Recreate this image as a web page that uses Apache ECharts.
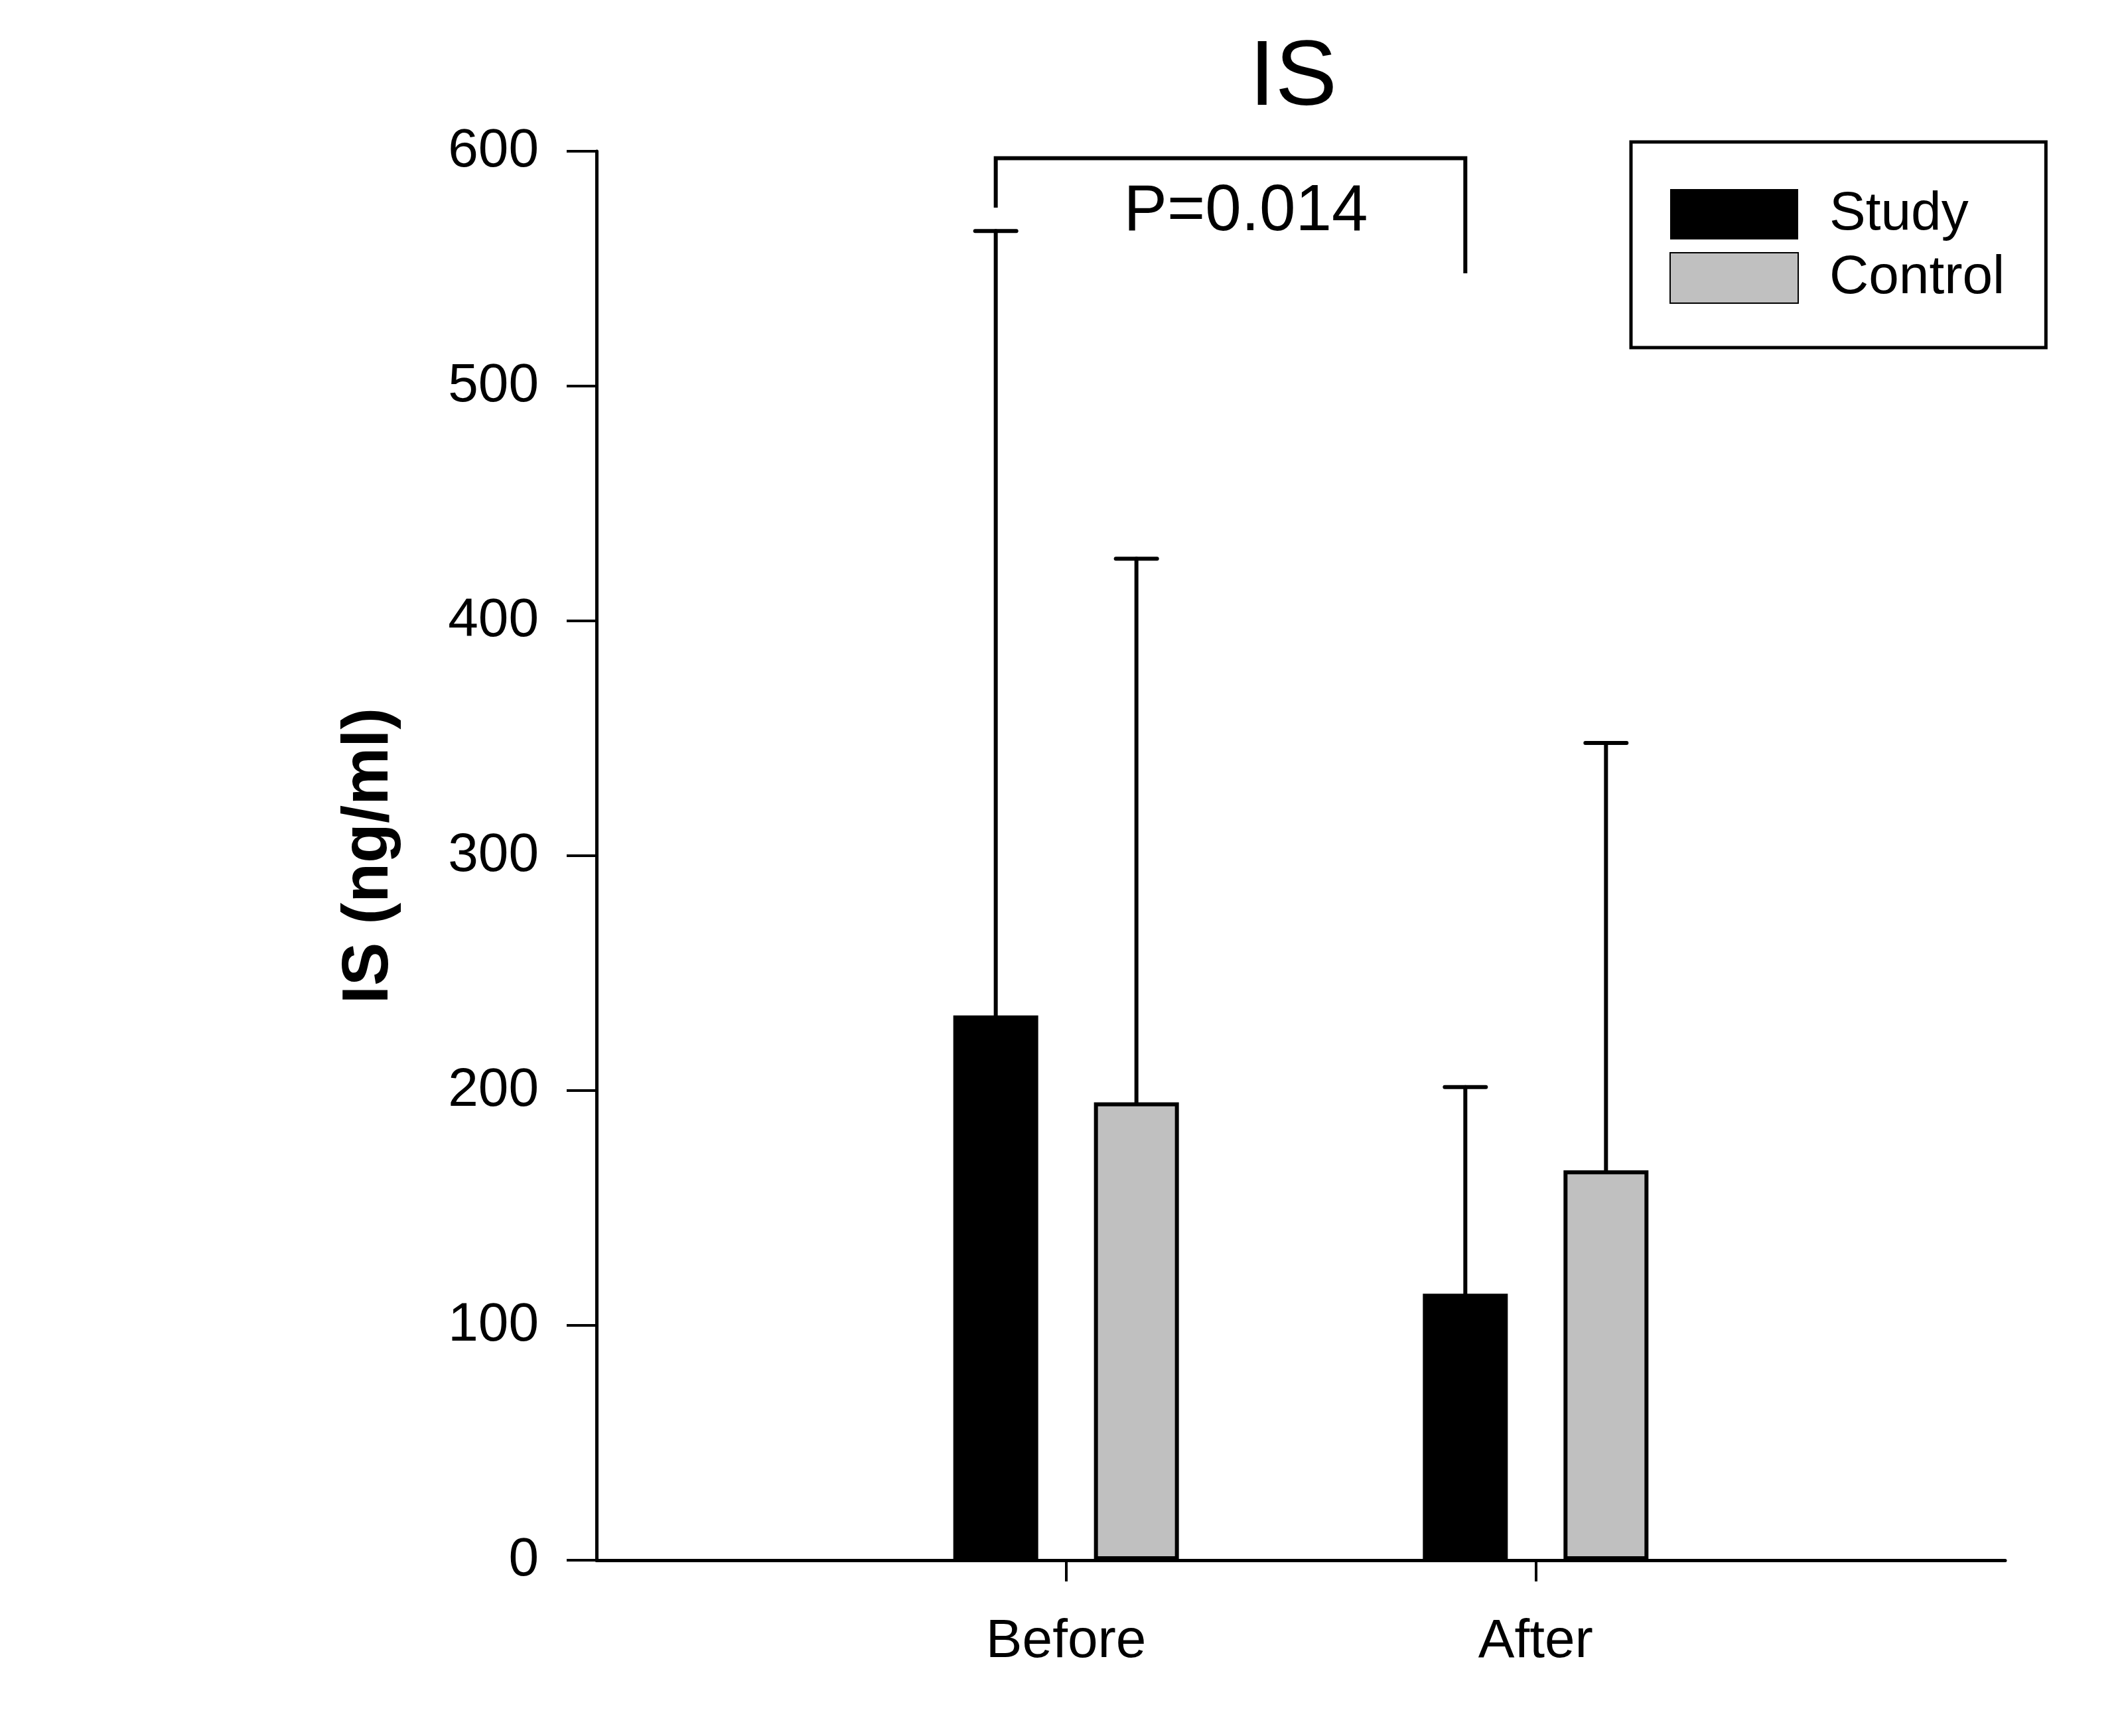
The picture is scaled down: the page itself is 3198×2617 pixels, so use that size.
<!DOCTYPE html>
<html>
<head>
<meta charset="utf-8">
<title>IS</title>
<script src="https://cdn.jsdelivr.net/npm/echarts@6/dist/echarts.min.js"></script>
<style>
  html, body { margin: 0; padding: 0; background: #fff; }
  #chart { width: 3198px; height: 2617px; }
</style>
</head>
<body>
<div id="chart"></div>
<script>
// categories (empty slots at both ends leave room on the x axis)
const categories = ['', 'Before', 'After', ''];
const seriesNames = ['Study', 'Control'];
// means and upper error (SD) per category
const studyMean = [null, 232, 113.5, null];
const studySd = [null, 334, 88, null];
const controlMean = [null, 195, 166, null];
const controlSd = [null, 231.5, 182, null];
// bracket: left end, top, right end (in ng/ml)
const bracketLevels = [576, 597, 548];
const pLabel = 'P=0.014';
const yTicks = [0, 100, 200, 300, 400, 500, 600];

const FONT = "'Liberation Sans', Arial, sans-serif";
const BAR_W = 128;
const BAR_GAP = 84;
const OFFSET = (BAR_W + BAR_GAP) / 2;

const chart = echarts.init(document.getElementById('chart'));

function errorBars(means, sds, shift) {
  return {
    type: 'custom',
    silent: true,
    z: 1,
    data: means.map((m, i) => [i, m, sds[i]]).filter((d) => d[1] != null),
    renderItem(params, api) {
      const idx = api.value(0);
      const top = api.coord([idx, api.value(1) + api.value(2)]);
      const base = api.coord([idx, api.value(1)]);
      const x = top[0] + shift;
      const style = { stroke: '#000', lineWidth: 6, lineCap: 'round' };
      return {
        type: 'group',
        children: [
          { type: 'line', shape: { x1: x, y1: base[1], x2: x, y2: top[1] }, style },
          { type: 'line', shape: { x1: x - 31, y1: top[1], x2: x + 31, y2: top[1] }, style }
        ]
      };
    }
  };
}

const option = {
  animation: false,
  backgroundColor: '#fff',
  title: {
    text: 'IS',
    left: 1944,
    top: 44,
    textAlign: 'center',
    textStyle: { fontFamily: FONT, fontSize: 140, fontWeight: 'normal', color: '#000' }
  },
  legend: {
    data: seriesNames,
    orient: 'vertical',
    left: 2458,
    top: 214,
    icon: 'rect',
    itemWidth: 193,
    itemHeight: 76,
    itemGap: 14,
    borderColor: '#000',
    borderWidth: 5,
    padding: [68, 62, 64, 58],
    textStyle: {
      fontFamily: FONT,
      fontSize: 82,
      color: '#000',
      lineHeight: 76,
      padding: [0, 0, 0, 42]
    }
  },
  grid: { left: 899, right: 176, top: 228, bottom: 265, containLabel: false },
  xAxis: {
    type: 'category',
    data: categories,
    boundaryGap: false,
    axisLine: { lineStyle: { color: '#000', width: 5 } },
    axisTick: {
      show: true,
      inside: false,
      length: 32,
      lineStyle: { color: '#000', width: 4 },
      interval: (i) => i === 1 || i === 2
    },
    axisLabel: {
      fontFamily: FONT,
      fontSize: 82,
      color: '#000',
      margin: 82,
      interval: 0
    },
    splitLine: { show: false }
  },
  yAxis: {
    type: 'value',
    min: yTicks[0],
    max: yTicks[yTicks.length - 1],
    interval: 100,
    name: 'IS (ng/ml)',
    nameLocation: 'middle',
    nameRotate: 90,
    nameGap: 293,
    nameTextStyle: { fontFamily: FONT, fontSize: 98, fontWeight: 'bold', color: '#000' },
    axisLine: { show: true, lineStyle: { color: '#000', width: 5 } },
    axisTick: { show: true, length: 45, lineStyle: { color: '#000', width: 4 } },
    axisLabel: { fontFamily: FONT, fontSize: 82, color: '#000', margin: 87 },
    splitLine: { show: false }
  },
  series: [
    {
      name: 'Study',
      type: 'bar',
      data: studyMean,
      barWidth: BAR_W,
      barGap: (BAR_GAP / BAR_W * 100) + '%',
      z: 2,
      itemStyle: { color: '#000', borderColor: '#000', borderWidth: 0 }
    },
    {
      name: 'Control',
      type: 'bar',
      data: controlMean,
      barWidth: BAR_W,
      z: 2,
      itemStyle: { color: '#c0c0c0', borderColor: '#000', borderWidth: 6 }
    },
    errorBars(studyMean, studySd, -OFFSET),
    errorBars(controlMean, controlSd, OFFSET),
    {
      type: 'custom',
      silent: true,
      data: [[1, 2]],
      renderItem(params, api) {
        const a = api.coord([api.value(0), bracketLevels[0]]);
        const t1 = api.coord([api.value(0), bracketLevels[1]]);
        const t2 = api.coord([api.value(1), bracketLevels[1]]);
        const b = api.coord([api.value(1), bracketLevels[2]]);
        const textPos = api.coord([api.value(0), 574]);
        return {
          type: 'group',
          children: [
            {
              type: 'polyline',
              shape: {
                points: [
                  [a[0] - OFFSET, a[1]],
                  [t1[0] - OFFSET, t1[1]],
                  [t2[0] - OFFSET, t2[1]],
                  [b[0] - OFFSET, b[1]]
                ]
              },
              style: { stroke: '#000', lineWidth: 6, fill: null, lineJoin: 'miter' }
            },
            {
              type: 'text',
              x: (a[0] + t2[0]) / 2 - OFFSET + 23,
              y: textPos[1],
              style: {
                text: pLabel,
                fontFamily: FONT,
                fontSize: 98,
                fill: '#000',
                align: 'center',
                verticalAlign: 'middle'
              }
            }
          ]
        };
      }
    }
  ]
};

chart.setOption(option);
</script>
</body>
</html>
